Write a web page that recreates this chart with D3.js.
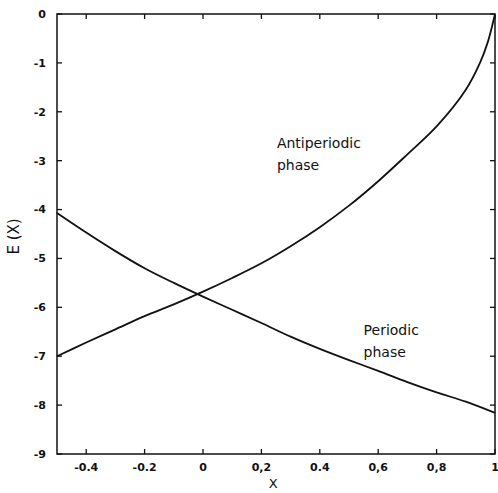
<!DOCTYPE html>
<html>
<head>
<meta charset="utf-8">
<script src="https://cdn.jsdelivr.net/npm/d3@7"></script>
<style>
  body { margin: 0; background: #fff; }
  text { font-family: "DejaVu Sans", sans-serif; fill: #111; }
</style>
</head>
<body>
<svg id="chart" width="498" height="493"></svg>
<script>
// values
const xTicks = [-0.4, -0.2, 0, 0.2, 0.4, 0.6, 0.8, 1]
const xTickLabels = ['-0.4', '-0.2', '0', '0,2', '0.4', '0,6', '0,8', '1']
const yTicks = [0, -1, -2, -3, -4, -5, -6, -7, -8, -9]

const periodicX = [-0.5, -0.4, -0.3, -0.2, -0.1, 0, 0.1, 0.2, 0.3, 0.4, 0.5, 0.6, 0.7, 0.8, 0.9, 1.0]
const periodicE = [-4.07, -4.47, -4.85, -5.2, -5.5, -5.78, -6.05, -6.32, -6.6, -6.85, -7.08, -7.3, -7.53, -7.74, -7.93, -8.16]

const antiX = [-0.5, -0.4, -0.3, -0.2, -0.1, 0, 0.1, 0.2, 0.3, 0.4, 0.5, 0.6, 0.7, 0.8, 0.9, 0.95, 0.975, 0.99, 1.0]
const antiE = [-7.0, -6.72, -6.45, -6.18, -5.94, -5.68, -5.4, -5.1, -4.75, -4.36, -3.92, -3.42, -2.87, -2.3, -1.55, -0.98, -0.58, -0.25, 0]

const svg = d3.select('#chart')
const margin = {top: 14, right: 3, bottom: 39, left: 57}
const W = 498 - margin.left - margin.right
const H = 493 - margin.top - margin.bottom

const x = d3.scaleLinear().domain([-0.5, 1]).range([0, W])
const y = d3.scaleLinear().domain([-9, 0]).range([H, 0])

const g = svg.append('g').attr('transform', `translate(${margin.left},${margin.top})`)

// frame with inward ticks on all four sides
g.append('rect')
  .attr('width', W).attr('height', H)
  .attr('fill', 'none').attr('stroke', '#111').attr('stroke-width', 1.5)

const tickLen = 5
g.selectAll('.xt-b').data(xTicks).join('line')
  .attr('x1', d => x(d)).attr('x2', d => x(d))
  .attr('y1', H).attr('y2', H - tickLen)
  .attr('stroke', '#111').attr('stroke-width', 1.3)
g.selectAll('.xt-t').data(xTicks).join('line')
  .attr('x1', d => x(d)).attr('x2', d => x(d))
  .attr('y1', 0).attr('y2', tickLen)
  .attr('stroke', '#111').attr('stroke-width', 1.3)
g.selectAll('.yt-l').data(yTicks).join('line')
  .attr('x1', 0).attr('x2', tickLen)
  .attr('y1', d => y(d)).attr('y2', d => y(d))
  .attr('stroke', '#111').attr('stroke-width', 1.3)
g.selectAll('.yt-r').data(yTicks).join('line')
  .attr('x1', W).attr('x2', W - tickLen)
  .attr('y1', d => y(d)).attr('y2', d => y(d))
  .attr('stroke', '#111').attr('stroke-width', 1.3)

// tick labels
g.selectAll('.xl').data(xTicks).join('text')
  .attr('x', d => x(d)).attr('y', H + 17)
  .attr('text-anchor', 'middle')
  .attr('font-size', 11).attr('font-weight', 'bold')
  .text((d, i) => xTickLabels[i])
g.selectAll('.yl').data(yTicks).join('text')
  .attr('x', -11).attr('y', d => y(d)).attr('dy', '0.35em')
  .attr('text-anchor', 'end')
  .attr('font-size', 11).attr('font-weight', 'bold')
  .text(d => d)

// axis titles
g.append('text')
  .attr('x', x(0.24)).attr('y', H + 34)
  .attr('text-anchor', 'middle').attr('font-size', 13)
  .text('X')
g.append('text')
  .attr('transform', `translate(${-43},${y(-4.55)}) rotate(-90)`)
  .attr('text-anchor', 'middle').attr('dy', '0.35em').attr('font-size', 15)
  .text('E (X)')

// curves
const line = d3.line().x(d => x(d[0])).y(d => y(d[1])).curve(d3.curveCatmullRom.alpha(0.5))
g.append('path')
  .datum(periodicX.map((v, i) => [v, periodicE[i]]))
  .attr('d', line).attr('fill', 'none').attr('stroke', '#111').attr('stroke-width', 1.8)
g.append('path')
  .datum(antiX.map((v, i) => [v, antiE[i]]))
  .attr('d', line).attr('fill', 'none').attr('stroke', '#111').attr('stroke-width', 1.8)

// curve labels
const addLabel = (lines, vx, vy) => {
  const t = g.append('text')
    .attr('x', x(vx)).attr('y', y(vy)).attr('font-size', 14)
  lines.forEach((s, i) => {
    t.append('tspan').attr('x', x(vx)).attr('dy', i === 0 ? 0 : 22).text(s)
  })
}
addLabel(['Antiperiodic', 'phase'], 0.253, -2.74)
addLabel(['Periodic', 'phase'], 0.55, -6.56)
</script>
</body>
</html>
